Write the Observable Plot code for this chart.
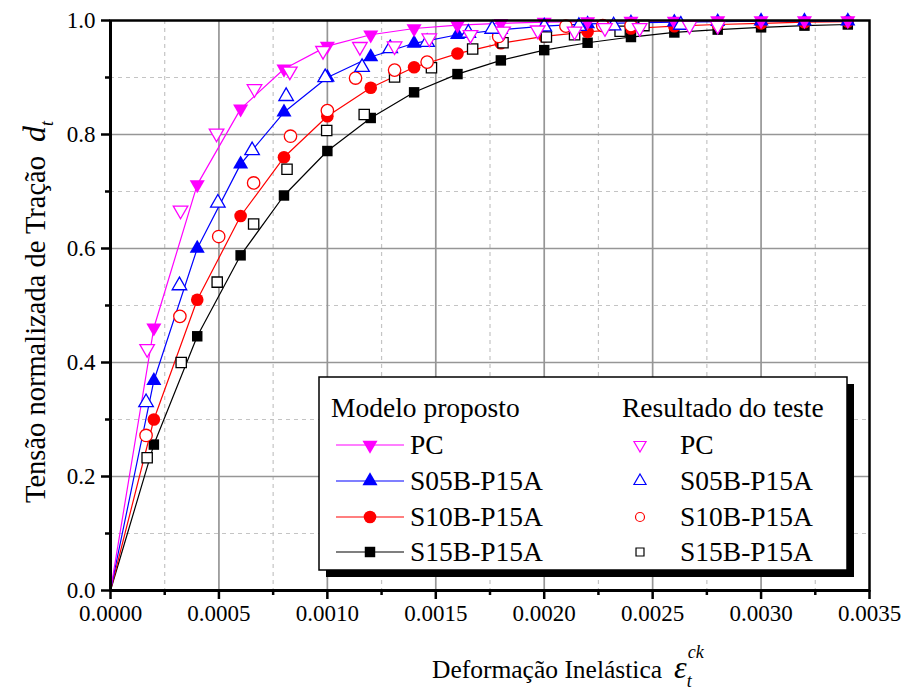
<!DOCTYPE html>
<html><head><meta charset="utf-8">
<script src="https://cdn.jsdelivr.net/npm/d3@7"></script>
<script src="https://cdn.jsdelivr.net/npm/@observablehq/plot@0.6"></script>
<style>
body{margin:0;background:#fff}
svg, svg text, svg tspan {font-family:"Liberation Serif","Times New Roman",serif !important}
</style>
</head><body><div id="chart"></div>
<script>
// ---------- data ----------
const modelX = [0, 0.0002, 0.0004, 0.0006, 0.0008, 0.0010, 0.0012, 0.0014, 0.0016, 0.0018, 0.0020, 0.0022, 0.0024, 0.0026, 0.0028, 0.0030, 0.0032, 0.0034];
const modelPC   = [0, 0.461, 0.712, 0.845, 0.915, 0.955, 0.975, 0.986, 0.992, 0.995, 0.997, 0.998, 0.999, 0.999, 1.000, 1.000, 1.000, 1.000];
const modelS05B = [0, 0.368, 0.600, 0.748, 0.839, 0.900, 0.936, 0.960, 0.975, 0.984, 0.990, 0.994, 0.996, 0.997, 0.998, 0.999, 0.999, 0.999];
const modelS10B = [0, 0.300, 0.510, 0.657, 0.760, 0.832, 0.882, 0.918, 0.942, 0.960, 0.972, 0.980, 0.986, 0.990, 0.993, 0.995, 0.997, 0.998];
const modelS15B = [0, 0.256, 0.446, 0.588, 0.693, 0.771, 0.829, 0.874, 0.906, 0.930, 0.948, 0.961, 0.971, 0.979, 0.984, 0.988, 0.991, 0.993];

const testPCx   = [0.000169, 0.000323, 0.000489, 0.000664, 0.000827, 0.00098, 0.00115, 0.00131, 0.00147, 0.00166, 0.00181, 0.00197, 0.00214, 0.00228, 0.00244, 0.00267, 0.00280];
const testPCy   = [0.424, 0.667, 0.802, 0.880, 0.911, 0.947, 0.954, 0.955, 0.969, 0.975, 0.981, 0.983, 0.981, 0.987, 0.987, 0.991, 0.991];
const testS05Bx = [0.000164, 0.000318, 0.000495, 0.000653, 0.00081, 0.00099, 0.00116, 0.00129, 0.00146, 0.00165, 0.00176, 0.00200, 0.00216, 0.00232, 0.00263];
const testS05By = [0.330, 0.535, 0.680, 0.772, 0.867, 0.900, 0.918, 0.951, 0.962, 0.978, 0.985, 0.989, 0.990, 0.991, 0.992];
const testS10Bx = [0.000164, 0.00032, 0.000499, 0.00066, 0.00083, 0.00100, 0.00113, 0.00131, 0.00146, 0.00179, 0.00210, 0.00227, 0.00240];
const testS10By = [0.272, 0.481, 0.621, 0.715, 0.797, 0.842, 0.899, 0.913, 0.927, 0.972, 0.990, 0.991, 0.991];
const testS15Bx = [0.000169, 0.000326, 0.000492, 0.00066, 0.000814, 0.000997, 0.00117, 0.00131, 0.00148, 0.00167, 0.00181, 0.00201, 0.00214, 0.00235, 0.00246];
const testS15By = [0.233, 0.400, 0.541, 0.643, 0.739, 0.807, 0.835, 0.901, 0.917, 0.950, 0.961, 0.971, 0.975, 0.981, 0.991];

const seriesNames = ["PC", "S05B-P15A", "S10B-P15A", "S15B-P15A"];
const seriesColors = ["#ff00ff", "#0000ff", "#ff0000", "#000000"];

const xMajorTicks = [0, 0.0005, 0.0010, 0.0015, 0.0020, 0.0025, 0.0030, 0.0035];
const xMinorTicks = [0.00025, 0.00075, 0.00125, 0.00175, 0.00225, 0.00275, 0.00325];
const yMajorTicks = [0, 0.2, 0.4, 0.6, 0.8, 1.0];
const yMinorTicks = [0.1, 0.3, 0.5, 0.7, 0.9];

const xTitle = "Deformação Inelástica";
const yTitle = "Tensão normalizada de Tração";
const legendLeftTitle = "Modelo proposto";
const legendRightTitle = "Resultado do teste";

// ---------- build rows ----------
const modelYs = [modelPC, modelS05B, modelS10B, modelS15B];
const testXs = [testPCx, testS05Bx, testS10Bx, testS15Bx];
const testYs = [testPCy, testS05By, testS10By, testS15By];
const modelRows = modelYs.map(ys => modelX.map((x, i) => ({x, y: ys[i]})));
const testRows = testXs.map((xs, k) => xs.map((x, i) => ({x, y: testYs[k][i]})));

// inverted triangle symbol
const sqrt3 = Math.sqrt(3);
const triangleDown = {
  draw(context, size) {
    const y = -Math.sqrt(size / (sqrt3 * 3));
    context.moveTo(0, -y * 2);
    context.lineTo(-sqrt3 * y, y);
    context.lineTo(sqrt3 * y, y);
    context.closePath();
  }
};
const filledSym = [triangleDown, d3.symbolTriangle, d3.symbolCircle, d3.symbolSquare];
const filledR = [5.6, 5.6, 6.3, 5.9];
const openSym = [triangleDown, d3.symbolTriangle, d3.symbolCircle, d3.symbolSquare];
const openR = [5.4, 5.4, 6.2, 5.8];

const marks = [
  Plot.gridX(xMinorTicks, {stroke: "#c4c4c4", strokeOpacity: 1, strokeWidth: 1.2, strokeDasharray: "4,4"}),
  Plot.gridY(yMinorTicks, {stroke: "#c4c4c4", strokeOpacity: 1, strokeWidth: 1.2, strokeDasharray: "4,4"}),
  Plot.gridX(xMajorTicks.slice(1, -1), {stroke: "#969696", strokeOpacity: 1, strokeWidth: 1.7}),
  Plot.gridY(yMajorTicks.slice(1, -1), {stroke: "#969696", strokeOpacity: 1, strokeWidth: 1.7}),
];
for (let k = 3; k >= 0; k--) {
  marks.push(Plot.line(modelRows[k], {x: "x", y: "y", stroke: seriesColors[k], strokeWidth: 1.2}));
  marks.push(Plot.dot(modelRows[k].slice(1), {x: "x", y: "y", symbol: filledSym[k], r: filledR[k], fill: seriesColors[k], stroke: "none"}));
}
for (let k = 3; k >= 0; k--) {
  marks.push(Plot.dot(testRows[k], {x: "x", y: "y", symbol: openSym[k], r: openR[k], fill: "white", stroke: seriesColors[k], strokeWidth: 1.3}));
}
marks.push(
  Plot.frame({stroke: "black", strokeWidth: 2.5}),
  Plot.ruleX([0], {stroke: "black", strokeWidth: 3}),
  Plot.ruleY([0], {stroke: "black", strokeWidth: 3}),
  Plot.axisX(xMajorTicks, {tickSize: 9, tickPadding: 5, strokeWidth: 2.5, tickFormat: d3.format(".4f"), label: null, fontSize: 23}),
  Plot.axisX(xMinorTicks, {tickSize: 5, strokeWidth: 2.5, tickFormat: () => "", label: null}),
  Plot.axisY(yMajorTicks, {tickSize: 9, tickPadding: 6, strokeWidth: 2.5, tickFormat: d3.format(".1f"), label: null, fontSize: 23}),
  Plot.axisY(yMinorTicks, {tickSize: 5, strokeWidth: 2.5, tickFormat: () => "", label: null})
);

const chart = Plot.plot({
  width: 904, height: 693,
  marginLeft: 110, marginRight: 35, marginTop: 20, marginBottom: 103,
  x: {domain: [0, 0.0035], label: null},
  y: {domain: [0, 1], label: null},
  style: {fontSize: "23px", color: "black", background: "white", overflow: "visible"},
  marks
});
document.getElementById("chart").appendChild(chart);

// ---------- titles ----------
const svg = d3.select(chart);
const xt = svg.append("text").attr("x", 432).attr("y", 678).attr("font-size", 25.5).attr("fill", "black").attr("text-anchor", "start");
xt.append("tspan").text(xTitle);
xt.append("tspan").attr("font-style", "italic").attr("font-size", 32).attr("dx", 12).text("ε");
xt.append("tspan").attr("font-style", "italic").attr("font-size", 18).attr("dy", 9).text("t");
xt.append("tspan").attr("font-style", "italic").attr("font-size", 18).attr("dx", -4).attr("dy", -29).text("ck");

const yt = svg.append("text").attr("transform", "translate(45,503) rotate(-90)").attr("font-size", 28.5).attr("fill", "black").attr("text-anchor", "start");
yt.append("tspan").text(yTitle);
yt.append("tspan").attr("font-style", "italic").attr("font-size", 32).attr("dx", 14).text("d");
yt.append("tspan").attr("font-style", "italic").attr("font-size", 18).attr("dy", 8).text("t");

// ---------- legend ----------
const lg = svg.append("g").attr("text-anchor", "start");
lg.append("rect").attr("x", 326).attr("y", 384).attr("width", 528).attr("height", 193).attr("fill", "black");
lg.append("rect").attr("x", 319).attr("y", 377).attr("width", 528).attr("height", 193).attr("fill", "white").attr("stroke", "black").attr("stroke-width", 1.5);
lg.append("text").attr("x", 331).attr("y", 417).attr("font-size", 27.5).text(legendLeftTitle);
lg.append("text").attr("x", 622).attr("y", 417).attr("font-size", 27.5).text(legendRightTitle);
const rowY = [445, 481, 517, 552];
seriesNames.forEach((name, k) => {
  const cy = rowY[k];
  lg.append("line").attr("x1", 336).attr("x2", 404).attr("y1", cy).attr("y2", cy).attr("stroke", seriesColors[k]).attr("stroke-width", 1.2);
  lg.append("path").attr("transform", `translate(370,${cy})`)
    .attr("d", d3.symbol().type(filledSym[k]).size(Math.PI * filledR[k] * filledR[k])())
    .attr("fill", seriesColors[k]);
  lg.append("text").attr("x", 410).attr("y", cy + 9).attr("font-size", 27.5).text(name);
  lg.append("path").attr("transform", `translate(640,${cy})`)
    .attr("d", d3.symbol().type(openSym[k]).size(Math.PI * 4.5 * 4.5)())
    .attr("fill", "white").attr("stroke", seriesColors[k]).attr("stroke-width", 1.2);
  lg.append("text").attr("x", 680).attr("y", cy + 9).attr("font-size", 27.5).text(name);
});
</script>
</body></html>
